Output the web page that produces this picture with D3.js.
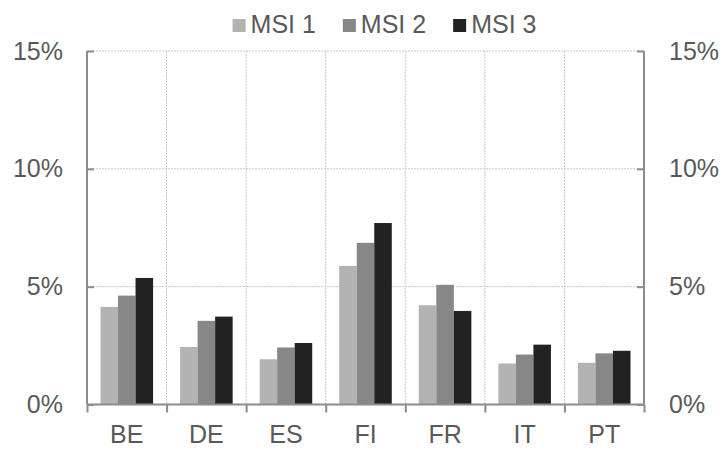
<!DOCTYPE html>
<html>
<head>
<meta charset="utf-8">
<script src="https://cdn.jsdelivr.net/npm/d3@7"></script>
<style>
  html, body { margin: 0; padding: 0; background: #fff; }
  svg { display: block; font-family: "Liberation Sans", Arial, sans-serif; }
</style>
</head>
<body>
<svg id="chart" width="723" height="449"></svg>
<script>
const categories = ["BE", "DE", "ES", "FI", "FR", "IT", "PT"];
const seriesNames = ["MSI 1", "MSI 2", "MSI 3"];
const msi1 = [0.0414, 0.0244, 0.0192, 0.0588, 0.0421, 0.0174, 0.0177];
const msi2 = [0.0462, 0.0355, 0.0242, 0.0686, 0.0508, 0.0212, 0.0217];
const msi3 = [0.0537, 0.0373, 0.0261, 0.0770, 0.0397, 0.0254, 0.0228];
const seriesValues = [msi1, msi2, msi3];
const seriesColors = ["#b3b3b3", "#878787", "#222222"];
const yTicks = [0, 0.05, 0.10, 0.15];

const svg = d3.select("#chart");
const pLeft = 87, pRight = 644, pTop = 51, pBottom = 404.5;
const textColor = "#595959";
const axisColor = "#8c8c8c";

const x0 = d3.scaleBand().domain(categories).range([pLeft, pRight]).paddingInner(0).paddingOuter(0);
const x1 = d3.scaleBand().domain(seriesNames).range([0, x0.bandwidth()]).paddingInner(0).paddingOuter(0.77);
const y = d3.scaleLinear().domain([0, 0.15]).range([pBottom, pTop]);

// Gridlines horizontal
svg.append("g").selectAll("line").data(yTicks.filter(d => d > 0)).join("line")
  .attr("x1", pLeft).attr("x2", pRight)
  .attr("y1", d => y(d)).attr("y2", d => y(d))
  .attr("stroke", "#c8c8c8").attr("stroke-width", 1).attr("stroke-dasharray", "2,1");

// Gridlines vertical at category boundaries
const bounds = categories.slice(1).map(c => x0(c));
svg.append("g").selectAll("line").data(bounds).join("line")
  .attr("x1", d => d).attr("x2", d => d)
  .attr("y1", pTop).attr("y2", pBottom)
  .attr("stroke", "#c8c8c8").attr("stroke-width", 1).attr("stroke-dasharray", "2,1");

// Bars
const rows = categories.map((c, i) => ({ c, vals: seriesNames.map((s, j) => ({ s, j, v: seriesValues[j][i] })) }));
svg.append("g").selectAll("g").data(rows).join("g")
  .attr("transform", d => `translate(${x0(d.c)},0)`)
  .selectAll("rect").data(d => d.vals).join("rect")
  .attr("x", d => x1(d.s)).attr("width", x1.bandwidth())
  .attr("y", d => y(d.v)).attr("height", d => y(0) - y(d.v))
  .attr("fill", d => seriesColors[d.j]);

// Left axis
const yAxisL = d3.axisLeft(y).tickValues(yTicks).tickFormat(d3.format(".0%")).tickSize(-7).tickPadding(24);
const gl = svg.append("g").attr("transform", `translate(${pLeft},0)`).call(yAxisL);
// Right axis
const yAxisR = d3.axisRight(y).tickValues(yTicks).tickFormat(d3.format(".0%")).tickSize(-7).tickPadding(25);
const gr = svg.append("g").attr("transform", `translate(${pRight},0)`).call(yAxisR);
// Bottom axis with ticks at boundaries
const xb = d3.scaleLinear().domain([0, categories.length]).range([pLeft, pRight]);
const xAxis = d3.axisBottom(xb).tickValues(d3.range(categories.length + 1)).tickFormat("").tickSize(8);
const gx = svg.append("g").attr("transform", `translate(0,${pBottom})`).call(xAxis);

[gl, gr, gx].forEach(g => {
  g.select(".domain").attr("stroke", axisColor).attr("stroke-width", 2);
  g.selectAll(".tick line").attr("stroke", axisColor).attr("stroke-width", 2);
  g.selectAll("text").attr("fill", textColor).attr("font-size", 25)
    .attr("font-family", '"Liberation Sans", Arial, sans-serif');
});
gl.select(".domain").attr("d", `M0,${pTop}V${pBottom}`);
gr.select(".domain").attr("d", `M0,${pTop}V${pBottom}`);
gx.select(".domain").attr("d", `M${pLeft},0H${pRight}`);

// Category labels
svg.append("g").selectAll("text").data(categories).join("text")
  .attr("x", d => x0(d) + x0.bandwidth() / 2).attr("y", 443)
  .attr("text-anchor", "middle").attr("fill", textColor).attr("font-size", 25)
  .text(d => d);

// Legend
const legend = svg.append("g");
const items = legend.selectAll("g").data(seriesNames).join("g");
items.append("rect").attr("width", 13).attr("height", 13).attr("y", 19)
  .attr("fill", (d, i) => seriesColors[i]);
items.append("text").attr("x", 18).attr("y", 32.5).attr("fill", textColor)
  .attr("font-size", 25).text(d => d);
let cx = 0;
const offs = [];
items.each(function () {
  offs.push(cx);
  const w = d3.select(this).select("text").node().getComputedTextLength();
  cx += 18 + w + 27;
});
const totalW = cx - 27;
const startX = 384.5 - totalW / 2;
items.attr("transform", (d, i) => `translate(${startX + offs[i]},0)`);
</script>
</body>
</html>
